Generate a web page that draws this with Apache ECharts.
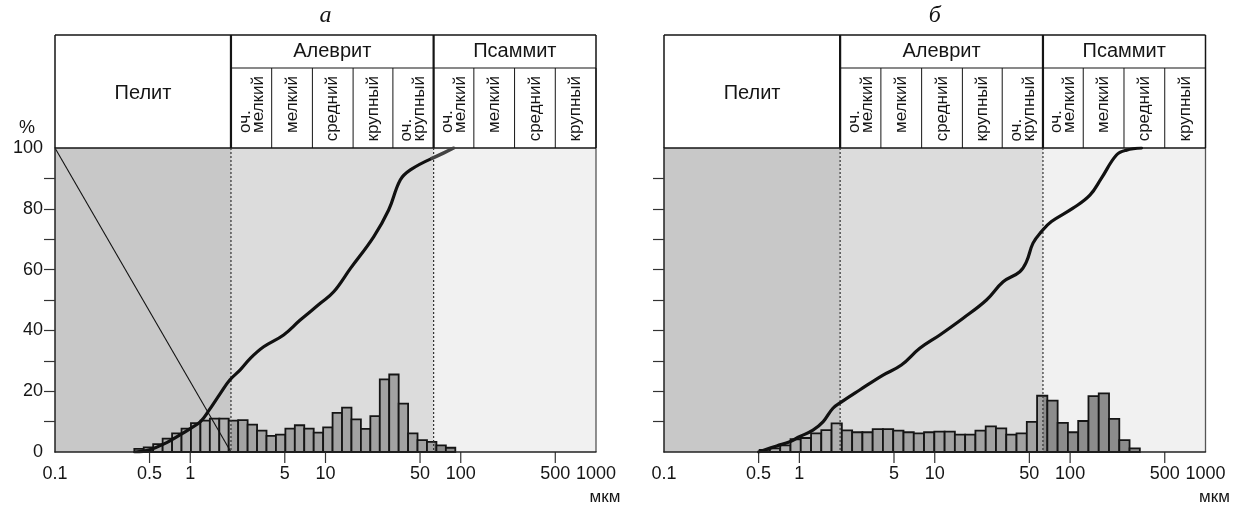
<!DOCTYPE html>
<html><head><meta charset="utf-8">
<script src="https://cdn.jsdelivr.net/npm/echarts@6/dist/echarts.min.js"></script>
<style>html,body{margin:0;padding:0;background:#fff}#c{width:1239px;height:507px}</style>
</head><body><div id="c"></div>
<script>
// ---------- data ----------
const panelTitles = ['а', 'б'];
const classBounds = [0.1, 2, 63, 1000];
const classNames = ['Пелит', 'Алеврит', 'Псаммит'];
const subBounds = [2, 4, 8, 16, 31.5, 63, 125, 250, 500, 1000];
const subNames = ['оч.\nмелкий', 'мелкий', 'средний', 'крупный', 'оч.\nкрупный', 'оч.\nмелкий', 'мелкий', 'средний', 'крупный'];
const xTickValues = [0.5, 1, 5, 10, 50, 100, 500];
const xLabelValues = [0.1, 0.5, 1, 5, 10, 50, 100, 500, 1000];
const xTickLabels = ['0.1', '0.5', '1', '5', '10', '50', '100', '500', '1000'];
const yLabelValues = [0, 20, 40, 60, 80, 100];
const yTickValues = [10, 20, 30, 40, 50, 60, 70, 80, 90];
const unitLabel = 'мкм';
const yUnit = '%';

const binEdgesA = [0.386,0.453,0.532,0.625,0.734,0.862,1.012,1.189,1.396,1.640,1.925,2.261,2.656,3.119,3.663,4.301,5.051,5.932,6.966,8.181,9.607,11.28,13.25,15.56,18.27,21.46,25.20,29.59,34.75,40.81,47.92,56.28,66.09,77.62,91.16];
const barsA = [1.0,1.5,2.6,4.4,6.1,7.7,9.5,10.3,11,11,10.3,10.5,9,7,5.3,5.7,7.7,8.8,7.7,6.4,8.1,12.9,14.6,10.7,7.6,11.8,23.9,25.5,15.9,6.1,3.9,3.3,2.2,1.4];
const curveA = [[0.39,0],[0.5,0.7],[0.67,3.1],[0.84,5.6],[1.0,7.7],[1.19,10],[1.37,13.6],[1.67,19.3],[1.96,23.7],[2.34,27],[2.78,30.8],[3.49,34.6],[4.9,38.5],[6.5,43.4],[9.15,48.9],[11.5,52.7],[15.3,60.4],[22.7,70.8],[29.3,79.6],[35.7,89.5],[42.4,92.8],[61.3,96.6]];
const curveTailA = [[61.3,96.6],[75,98.4],[88.5,100]];
const diagLineA = [[0.1,100],[2,0]];

const binEdgesB = [0.509,0.606,0.722,0.860,1.024,1.220,1.452,1.729,2.060,2.454,2.922,3.479,4.144,4.934,5.877,7.000,8.337,9.929,11.83,14.08,16.77,19.97,23.79,28.33,33.75,40.19,47.86,57.00,67.89,80.86,96.3,114.7,136.6,162.7,193.8,230.8,274.8,327.3];
const barsB = [0.7,1.2,2.2,4.2,4.6,6.1,7.2,9.4,7.1,6.5,6.5,7.5,7.5,7.0,6.5,6.1,6.5,6.7,6.7,5.7,5.7,7.0,8.4,7.8,5.7,6.1,9.9,18.5,16.9,9.6,6.5,10.2,18.4,19.3,10.9,3.9,1.2];
const curveB = [[0.5,0],[0.68,2],[0.85,3.4],[1.0,5],[1.26,7.2],[1.5,10],[1.77,14.4],[2.05,16.5],[2.79,20.4],[4.15,25.3],[5.67,28.6],[7.75,34.1],[10.9,38.5],[16.2,44],[24.1,50],[32,56],[42.5,59.3],[47.6,62.6],[53.2,68.7],[61.4,72.5],[72.8,75.8],[105,80.2],[140,84.5],[170,90],[220,97.7],[261,99.3],[337,100]];

// ---------- styles ----------
const SANS = '"Liberation Sans", Arial, sans-serif';
const INK = '#151515';
const bgColors = ['#c8c8c8', '#dcdcdc', '#f1f1f1'];
const barColors = ['#b1b1b1', '#a2a2a2', '#8c8c8c'];
const subFont = '17px ' + SANS;
const mctx = document.createElement('canvas').getContext('2d');
function textW(s, font) { mctx.font = font; return mctx.measureText(s).width; }

function bgRender(params, api) {
  const p0 = api.coord([api.value(0), 100]);
  const p1 = api.coord([api.value(1), 0]);
  return { type: 'rect', shape: { x: p0[0], y: p0[1], width: p1[0] - p0[0], height: p1[1] - p0[1] },
    style: { fill: bgColors[api.value(2)] } };
}

function barRender(params, api) {
  const lo = api.value(0), hi = api.value(1), v = api.value(2);
  const a = api.coord([lo, v]), b = api.coord([hi, 0]);
  const ch = [];
  for (let k = 0; k < 3; k++) {
    const cl = Math.max(lo, classBounds[k]), chh = Math.min(hi, classBounds[k + 1]);
    if (chh > cl) {
      const c0 = api.coord([cl, v]), c1 = api.coord([chh, 0]);
      ch.push({ type: 'rect', shape: { x: c0[0], y: c0[1], width: c1[0] - c0[0], height: c1[1] - c0[1] }, style: { fill: barColors[k] } });
    }
  }
  ch.push({ type: 'rect', shape: { x: a[0], y: a[1], width: b[0] - a[0], height: b[1] - a[1] },
    style: { fill: null, stroke: INK, lineWidth: 1.8 } });
  return { type: 'group', children: ch };
}

function dashRender(params, api) {
  const t = api.coord([api.value(0), 100]), b = api.coord([api.value(0), 0]);
  return { type: 'line', shape: { x1: t[0], y1: t[1], x2: b[0], y2: b[1] },
    style: { stroke: '#333', lineWidth: 1.2, lineDash: [2, 2] } };
}

function xTickRender(params, api) {
  const p = api.coord([api.value(0), 0]);
  return { type: 'line', shape: { x1: p[0], y1: p[1], x2: p[0], y2: p[1] + 11 },
    style: { stroke: '#333', lineWidth: 1.2 } };
}

function xLabelRender(params, api) {
  const p = api.coord([api.value(0), 0]);
  return { type: 'text', x: p[0], y: p[1] + 22,
    style: { text: xTickLabels[params.dataIndex], font: '18px ' + SANS, fill: INK, align: 'center', verticalAlign: 'middle' } };
}

function makeHeaderRender(panel) {
  return function (params, api) {
    const top = api.coord([0.1, 100])[1];
    const bottom = api.coord([0.1, 0])[1];
    const hTop = top - 113, rowY = top - 80;
    const X = v => api.coord([v, 100])[0];
    const x0 = X(classBounds[0]), x3 = X(classBounds[3]);
    const ch = [];
    const line = (x1, y1, x2, y2, w, c) => ch.push({ type: 'line', shape: { x1, y1, x2, y2 }, style: { stroke: c || INK, lineWidth: w } });
    line(x3, top, x3, bottom, 1.3, '#555');
    line(x0, hTop, x3, hTop, 1.5);
    line(x0, hTop, x0, top, 1.5);
    line(x3, hTop, x3, top, 1.5);
    line(X(classBounds[1]), rowY, x3, rowY, 1.2);
    subBounds.forEach(v => line(X(v), rowY, X(v), top, 1));
    line(X(classBounds[1]), hTop, X(classBounds[1]), top, 2.2);
    line(X(classBounds[2]), hTop, X(classBounds[2]), top, 2.2);
    line(x0, top, x3, top, 1.5);
    classNames.forEach((n, i) => {
      const cx = (X(classBounds[i]) + X(classBounds[i + 1])) / 2;
      const cy = i === 0 ? top - 55 : (hTop + rowY) / 2;
      ch.push({ type: 'text', x: cx, y: cy, style: { text: n, font: '20px ' + SANS, fill: INK, align: 'center', verticalAlign: 'middle' } });
    });
    subNames.forEach((n, i) => {
      const cx = (X(subBounds[i]) + X(subBounds[i + 1])) / 2;
      const lines = n.split('\n');
      const W = Math.max.apply(null, lines.map(s => textW(s, subFont)));
      const y0 = rowY + 8 + W;
      lines.forEach((s, j) => {
        const lx = cx + (j - (lines.length - 1) / 2) * 13;
        ch.push({ type: 'text', x: lx, y: y0, rotation: Math.PI / 2,
          style: { text: s, font: subFont, fill: INK, align: 'left', verticalAlign: 'middle' } });
      });
    });
    ch.push({ type: 'text', x: X(10), y: hTop - 19,
      style: { text: panelTitles[panel], font: 'italic 24px "Liberation Serif", "Times New Roman", serif', fill: INK, align: 'center', verticalAlign: 'middle' } });
    ch.push({ type: 'text', x: x3 + 9, y: bottom + 45,
      style: { text: unitLabel, font: '17px ' + SANS, fill: INK, align: 'center', verticalAlign: 'middle' } });
    if (panel === 0) {
      ch.push({ type: 'text', x: x0 - 28, y: top - 20,
        style: { text: yUnit, font: '18px ' + SANS, fill: INK, align: 'center', verticalAlign: 'middle' } });
    }
    return { type: 'group', children: ch };
  };
}

const bgData = classNames.map((n, i) => [classBounds[i], classBounds[i + 1], i]);
const panels = [
  { edges: binEdgesA, bars: barsA, curve: curveA },
  { edges: binEdgesB, bars: barsB, curve: curveB }
];

const series = [];
panels.forEach((p, i) => {
  const ax = { xAxisIndex: i, yAxisIndex: i, silent: true };
  series.push(Object.assign({ type: 'custom', z: 1, renderItem: bgRender, encode: { x: [0, 1], y: 2 }, data: bgData }, ax));
  series.push(Object.assign({ type: 'custom', z: 3, renderItem: barRender, encode: { x: [0, 1], y: 2 },
    data: p.bars.map((v, k) => [p.edges[k], p.edges[k + 1], v]) }, ax));
  series.push(Object.assign({ type: 'custom', z: 4, renderItem: dashRender, encode: { x: 0, y: 1 },
    data: [[classBounds[1], 0], [classBounds[2], 0]] }, ax));
  series.push(Object.assign({ type: 'custom', z: 2, renderItem: makeHeaderRender(i), encode: { x: 0, y: 1 }, data: [[0.1, 100]] }, ax));
  series.push(Object.assign({ type: 'custom', z: 5, renderItem: xTickRender, encode: { x: 0, y: 1 }, data: xTickValues.map(v => [v, 0]) }, ax));
  series.push(Object.assign({ type: 'custom', z: 5, renderItem: xLabelRender, encode: { x: 0, y: 1 }, data: xLabelValues.map(v => [v, 0]) }, ax));
  series.push(Object.assign({ type: 'line', z: 6, data: p.curve, smooth: 0.4, symbol: 'none',
    lineStyle: { color: '#111', width: 3.2, join: 'round', cap: 'round' } }, ax));
});
series.push({ type: 'line', xAxisIndex: 0, yAxisIndex: 0, silent: true, z: 6, data: curveTailA, smooth: 0.4, symbol: 'none',
  lineStyle: { color: '#444', width: 3.4, cap: 'round' } });
series.push({ type: 'line', xAxisIndex: 0, yAxisIndex: 0, silent: true, z: 4, data: diagLineA, symbol: 'none',
  lineStyle: { color: '#111', width: 1.1 } });

function xAxisCfg(i) {
  return { gridIndex: i, type: 'log', logBase: 10, min: 0.1, max: 1000, z: 10,
    axisLine: { show: true, onZero: false, lineStyle: { color: '#222', width: 1.5 } },
    axisTick: { show: false }, axisLabel: { show: false }, splitLine: { show: false } };
}
function yAxisCfg(i) {
  return { gridIndex: i, type: 'value', min: 0, max: 100, interval: 10, z: 10,
    axisLine: { show: true, lineStyle: { color: '#222', width: 1.5 } },
    axisTick: { show: true, length: 11, customValues: yTickValues, lineStyle: { color: '#333', width: 1.2 } },
    axisLabel: { show: i === 0, customValues: yLabelValues, margin: 12, fontSize: 18, fontFamily: SANS, color: INK },
    splitLine: { show: false } };
}

const chart = echarts.init(document.getElementById('c'), null, { renderer: 'canvas' });
chart.setOption({
  animation: false,
  backgroundColor: '#fff',
  grid: [
    { left: 55, top: 148, width: 541, height: 304 },
    { left: 664, top: 148, width: 541.5, height: 304 }
  ],
  xAxis: [xAxisCfg(0), xAxisCfg(1)],
  yAxis: [yAxisCfg(0), yAxisCfg(1)],
  series: series
});
</script>
</body></html>
